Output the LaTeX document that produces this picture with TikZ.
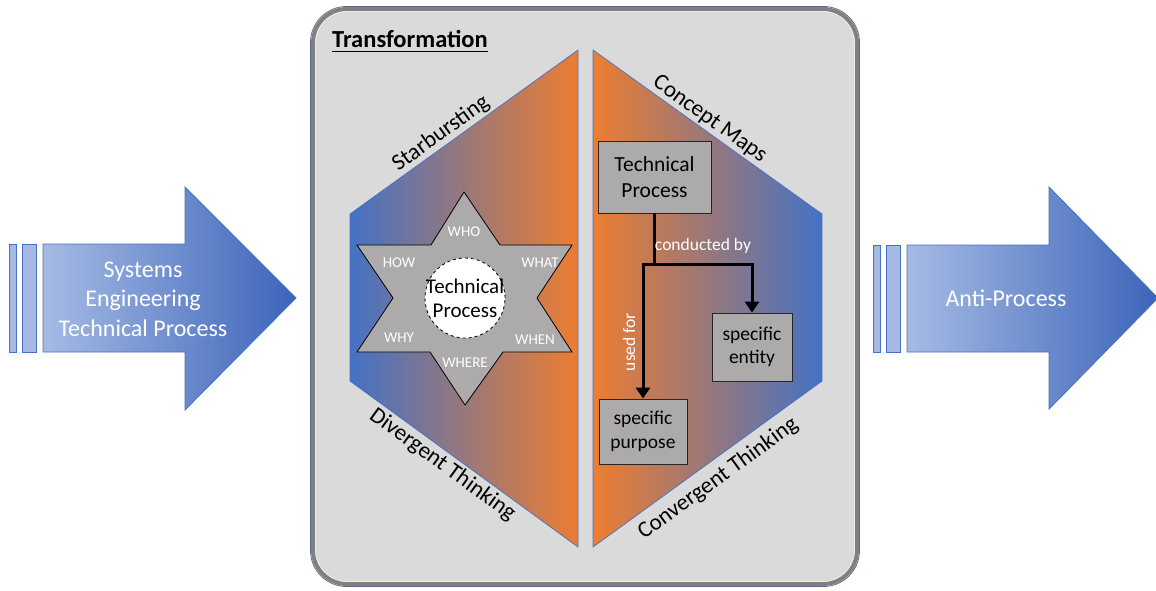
\documentclass[tikz,border=0pt]{standalone}
\usepackage{fontspec}
\setmainfont{Carlito}
\usetikzlibrary{arrows.meta}
\definecolor{hexblue}{RGB}{68,114,196}
\definecolor{hexorange}{RGB}{237,125,49}
\definecolor{arrowlight}{RGB}{166,187,228}
\definecolor{arrowdark}{RGB}{60,100,186}
\definecolor{arrowedge}{RGB}{68,114,196}
\definecolor{panelfill}{RGB}{218,218,218}
\definecolor{paneledge}{RGB}{128,128,128}
\definecolor{paneloutline}{RGB}{90,105,135}
\definecolor{boxgray}{RGB}{172,170,170}
\definecolor{barfill}{RGB}{165,185,226}
\begin{document}
\begin{tikzpicture}[x=1pt,y=-1pt,
  bigarrow/.style={draw=arrowedge, line width=0.8pt, left color=arrowlight, right color=arrowdark},
  bar/.style={draw=arrowedge, line width=0.8pt, fill=barfill},
  arrowtext/.style={text=white, font=\fontsize{24}{29.5}\selectfont, align=center, inner sep=0pt},
  hexleft/.style={draw=hexblue, line width=0.7pt, left color=hexblue, right color=hexorange},
  hexright/.style={draw=hexblue, line width=0.7pt, left color=hexorange, right color=hexblue},
  edgelabel/.style={font=\fontsize{23}{26}\selectfont, sloped, inner sep=2pt},
  starlabel/.style={text=white, font=\fontsize{15}{17}\selectfont, inner sep=0pt},
  mapbox/.style={draw=black!85, line width=0.8pt, fill=boxgray, align=center, inner sep=2pt},
  mapline/.style={line width=3pt, draw=black},
  maparrow/.style={mapline, -{Triangle[width=14pt,length=11pt]}},
  maplabel/.style={text=white, font=\fontsize{17.5}{20}\selectfont, inner sep=0pt}
]
\useasboundingbox (0,0) rectangle (1156,590);
\fill[white] (0,0) rectangle (1156,590);

% ---------- left arrow ----------
\draw[bar] (9,244) rectangle (16,352);
\draw[bar] (22.5,244) rectangle (36.5,352);
\path[bigarrow] (43,244) -- (185,244) -- (185,187) -- (296,298) -- (185,410) -- (185,352) -- (43,352) -- cycle;
\node[arrowtext] (inText) at (143,299) {Systems\\Engineering\\Technical Process};

% ---------- right arrow ----------
\draw[bar] (873,245) rectangle (880,352);
\draw[bar] (886,245) rectangle (900.5,352);
\path[bigarrow] (907,245) -- (1049,245) -- (1049,187) -- (1158,298) -- (1049,409) -- (1049,352) -- (907,352) -- cycle;
\node[arrowtext] (outText) at (1006,298) {Anti-Process};

% ---------- central panel ----------
\draw[paneloutline, line width=0.8pt, rounded corners=36pt] (310.5,6.5) rectangle (859.5,586.5);
\draw[fill=panelfill, draw=paneledge, line width=4pt, rounded corners=34pt] (313,9) rectangle (857,584);
\draw[white!85!gray, line width=0.8pt, rounded corners=32pt] (315.5,11.5) rectangle (854.5,581.5);
\node[font=\bfseries\fontsize{24.5}{27}\selectfont, anchor=west, inner sep=0pt] (title) at (332,39) {Transformation};
\draw[line width=1.6pt] ([yshift=-4pt]title.base west) -- ([yshift=-4pt]title.base east);

% ---------- hexagon halves ----------
\coordinate (L0) at (578,50);
\coordinate (L1) at (350,214);
\coordinate (L2) at (350,381);
\coordinate (L3) at (578,547);
\coordinate (R0) at (593,50);
\coordinate (R1) at (822,214);
\coordinate (R2) at (822,381);
\coordinate (R3) at (593,547);
\path[hexleft] (L0) -- (L1) -- (L2) -- (L3) -- cycle;
\path[hexright] (R0) -- (R1) -- (R2) -- (R3) -- cycle;

\path (L1) -- (L0) node[edgelabel, pos=0.43, above] (lblStar) {Starbursting};
\path (R0) -- (R1) node[edgelabel, pos=0.48, above] (lblConcept) {Concept Maps};
\path (L2) -- (L3) node[edgelabel, pos=0.44, below=1pt] (lblDiv) {Divergent Thinking};
\path (R3) -- (R2) node[edgelabel, pos=0.5, below=6pt] (lblConv) {Convergent Thinking};

% ---------- star ----------
\draw[fill=boxgray, draw=black, line width=0.8pt]
  (464,192) -- (500,245) -- (572,245) -- (537,298) -- (572,352) -- (503,352) --
  (465,405) -- (430,352) -- (357,352) -- (393,298) -- (357,245) -- (431,245) -- cycle;
\node[circle, draw=black, dashed, fill=white, line width=0.8pt, minimum size=80pt, inner sep=0pt] (core) at (465,298) {};
\node[align=center, font=\fontsize{21}{24}\selectfont, inner sep=0pt] (coreText) at (core.center) {Technical\\Process};
\node[starlabel] (who) at (464,232) {WHO};
\node[starlabel] (how) at (399,263) {HOW};
\node[starlabel] (what) at (540,263) {WHAT};
\node[starlabel] (why) at (399,338) {WHY};
\node[starlabel] (when) at (535,340) {WHEN};
\node[starlabel] (where) at (465,363) {WHERE};

% ---------- concept map ----------
\node[mapbox, minimum width=113pt, minimum height=72pt, font=\fontsize{21.5}{26}\selectfont] (tp) at (654.5,177) {Technical\\Process};
\node[mapbox, minimum width=80pt, minimum height=68pt, font=\fontsize{19.5}{23.5}\selectfont] (ent) at (752,347) {specific\\entity};
\node[mapbox, minimum width=88pt, minimum height=65pt, font=\fontsize{19.5}{24}\selectfont] (pur) at (643,431.5) {specific\\purpose};
\coordinate (j) at (654.5,264);
\draw[mapline] (tp.south) -- (j);
\draw[maparrow] (j) -| (ent.north);
\draw[maparrow] (j) -| (pur.north);
\node[maplabel] (condBy) at (703,246) {conducted by};
\node[maplabel, rotate=90] (usedFor) at (629,342) {used for};
\end{tikzpicture}
\end{document}
